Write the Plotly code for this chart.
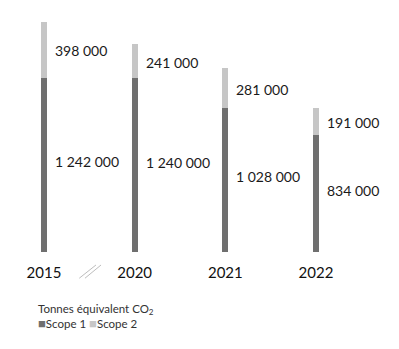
import plotly.graph_objects as go

years = ["2015", "2020", "2021", "2022"]
scope1 = [1242000, 1240000, 1028000, 834000]
scope2 = [398000, 241000, 281000, 191000]
scope1_labels = ["1 242 000", "1 240 000", "1 028 000", "834 000"]
scope2_labels = ["398 000", "241 000", "281 000", "191 000"]

c1 = "#6f6f6f"
c2 = "#c6c6c6"
FONT = "Lato"

fig = go.Figure()
fig.add_bar(x=years, y=scope1, name="Scope 1", marker_color=c1, width=0.066,
            marker_line_width=0)
fig.add_bar(x=years, y=scope2, name="Scope 2", marker_color=c2, width=0.066,
            marker_line_width=0)

ann = []
for i, (s1, s2, l1, l2) in enumerate(zip(scope1, scope2, scope1_labels, scope2_labels)):
    ann.append(dict(x=i, y=s1 / 2, text=l1, xanchor="left", yanchor="middle",
                    xshift=9, yshift=3, showarrow=False,
                    font=dict(family=FONT, size=14, color="#1a1a1a")))
    ann.append(dict(x=i, y=s1 + s2 / 2, text=l2, xanchor="left", yanchor="middle",
                    xshift=9, yshift=-1, showarrow=False,
                    font=dict(family=FONT, size=14, color="#1a1a1a")))

ann.append(dict(x=0.069, y=-0.281, xref="paper", yref="paper",
                text=("Tonnes équivalent CO<sub>2</sub><br>"
                      f"<span style='color:{c1};font-size:13px'>■</span>Scope 1 "
                      f"<span style='color:{c2};font-size:13px'>■</span>Scope 2"),
                xanchor="left", yanchor="middle", align="left",
                showarrow=False, font=dict(family=FONT, size=11.5, color="#333333")))

shapes = [
    dict(type="line", xref="x", yref="paper", x0=0.389, x1=0.573, y0=-0.114, y1=-0.0565,
         line=dict(color="#bdbdbd", width=1)),
    dict(type="line", xref="x", yref="paper", x0=0.452, x1=0.629, y0=-0.114, y1=-0.0565,
         line=dict(color="#bdbdbd", width=1)),
]

fig.update_layout(
    width=399, height=349,
    margin=dict(l=10, r=10, t=22, b=97),
    barmode="stack",
    showlegend=False,
    plot_bgcolor="white", paper_bgcolor="white",
    annotations=ann, shapes=shapes,
    xaxis=dict(type="category", range=[-0.375, 3.805], showgrid=False, zeroline=False,
               showline=False, ticks="", ticklabelstandoff=10,
               tickfont=dict(family=FONT, size=15, color="#111111")),
    yaxis=dict(range=[0, 1640000], visible=False, showgrid=False, zeroline=False),
)

fig.write_html("out.html")
